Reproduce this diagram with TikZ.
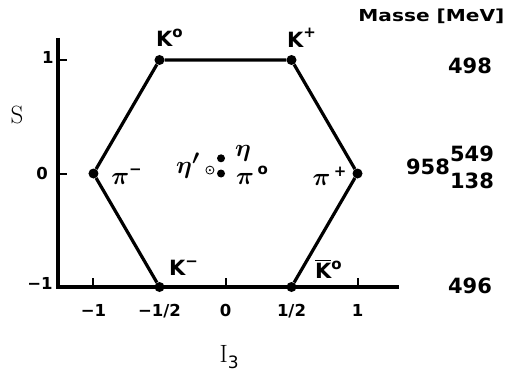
\documentclass[tikz,border=0pt]{standalone}
\usepackage{fontspec}
\usepackage{amsmath}
\setsansfont{DejaVu Sans}
\newfontfamily\widesans[FakeStretch=1.22]{DejaVu Sans}
\usetikzlibrary{positioning}

\newcommand{\hi}[1]{\raisebox{0.45em}{\fontsize{15}{15}\selectfont #1}}
\newcommand{\bpi}{{\fontsize{25}{25}\selectfont$\boldsymbol{\pi}$}}

\tikzset{
  font=\sffamily\bfseries,
  %
  axis/.style={line width=4.5pt, line join=miter},
  tick/.style={line width=2pt},
  edge/.style={line width=3.2pt},
  %
  dot/.style={circle, fill=black, inner sep=0pt, minimum size=10pt},
  sdot/.style={dot, minimum size=8pt},
  ring/.style={circle, draw=black, line width=0.8pt, inner sep=0pt, minimum size=8pt,
               path picture={\fill (path picture bounding box.center) circle (1.1pt);}},
  %
  part/.style={inner sep=0pt, font=\sffamily\bfseries\fontsize{21}{21}\selectfont},
  greek/.style={inner sep=0pt, font=\rmfamily\mdseries\fontsize{31}{31}\selectfont},
  mass/.style={inner sep=0pt, font=\sffamily\bfseries\fontsize{21}{21}\selectfont},
  num/.style={inner sep=0pt, font=\sffamily\bfseries\fontsize{16.5}{16.5}\selectfont},
  axlbl/.style={inner sep=0pt, font=\rmfamily\mdseries\fontsize{25}{25}\selectfont},
}

\begin{document}
\begin{tikzpicture}[x=132pt, y=113.5pt]
  \useasboundingbox (-225.5pt,-201.5pt) rectangle (280.5pt,173.5pt);

  % axes
  \coordinate (orig) at (-1.269,-1);
  \coordinate (ytop) at (-1.269,1.194);
  \coordinate (xend) at (1.314,-1);
  \draw[axis] (ytop) -- (orig) -- (xend);
  \foreach \s in {0,1} \draw[tick] (-1.269,\s) -- +(9pt,0);
  \foreach \i in {-1,0,1} \draw[tick] (\i,-1) -- +(0,9pt);

  \node[num] (s1) at (-1.345,1.018) {1};
  \node[num] (s0) at (-1.39,0) {0};
  \node[num] (sm) at (-1.405,-0.97) {−1};
  \foreach \i/\t in {-1/{−1}, -0.5/{−1/2}, 0/{0}, 0.5/{1/2}, 1/{1}}
    \node[num] at (\i,-1.211) {\t};

  \node[axlbl] (slbl) at (-1.58,0.52) {S};
  \node[axlbl] (ilbl) at (0.027,-1.617) {I\raisebox{-0.25em}{\fontsize{17}{17}\selectfont\sffamily 3}};

  % the nonet
  \node[dot] (k0) at (-0.5,1) {};
  \node[dot] (kp) at (0.5,1) {};
  \node[dot] (pip) at (1,0) {};
  \node[dot] (kbar) at (0.5,-1) {};
  \node[dot] (km) at (-0.5,-1) {};
  \node[dot] (pim) at (-1,0) {};
  \draw[edge] (k0) -- (kp) -- (pip) -- (kbar) -- (km) -- (pim) -- (k0);

  \node[sdot] (eta) at (-0.034,0.134) {};
  \node[sdot] (pi0) at (-0.034,0) {};
  \node[ring] (etap) at (-0.118,0.03) {};

  \node[part, xshift=10pt, yshift=22pt] (k0l) at (k0) {K\hi{o}};
  \node[part, xshift=10pt, yshift=22pt] (kpl) at (kp) {K\hi{+}};
  \node[part, xshift=33pt, yshift=-3pt] (piml) at (pim) {\bpi\hi{−}};
  \node[part, xshift=-28pt, yshift=-3pt] (pipl) at (pip) {\bpi\,\hi{+}};
  \node[part, xshift=24pt, yshift=19pt] (kml) at (km) {K\hi{−}};
  \node[part, xshift=37pt, yshift=18pt] (kbarl) at (kbar) {$\overline{\hbox{K}}$\hi{o}};
  \node[greek, xshift=22pt, yshift=5pt] (etal) at (eta) {$\boldsymbol{\eta}$};
  \node[part, xshift=31pt, yshift=-2pt] (pi0l) at (pi0) {\bpi\,\hi{o}};
  \node[greek, xshift=-22pt, yshift=4pt] (etapl) at (etap) {$\boldsymbol{\eta'}$};

  % masses
  \node[inner sep=0pt, font=\widesans\bfseries\fontsize{16.5}{16.5}\selectfont] (head) at (1.56,1.388) {Masse [MeV]};
  \node[mass] (m498) at (1.852,0.947) {498};
  \node[mass] (m549) at (1.867,0.172) {549};
  \node[mass] (m138) at (1.867,-0.066) {138};
  \node[mass] (m958) at (1.534,0.057) {958};
  \node[mass] (m496) at (1.852,-0.991) {496};

\end{tikzpicture}
\end{document}
